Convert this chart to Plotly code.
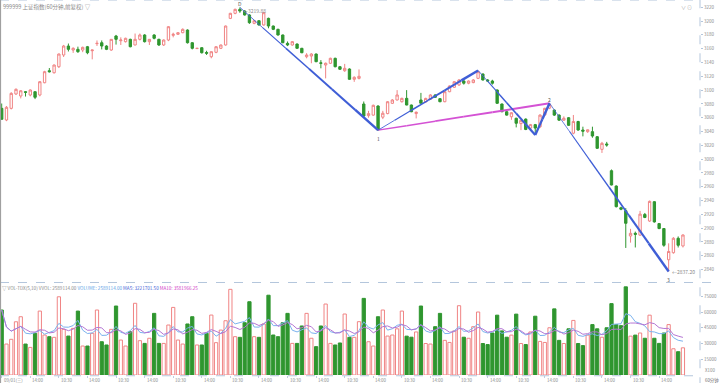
import plotly.graph_objects as go
import pandas as pd

title_text = "999999 上证指数(60分钟,前复权) ▽"
hdr_name = "▽ VOL-TDX(5,10)"
hdr_vvol = "VVOL: 2589114.00"
hdr_volume = "VOLUME: 2589114.00"
hdr_ma5 = "MA5: 3221701.50"
hdr_ma10 = "MA10: 3581966.25"

opens = [3073.6,3056.7,3073.6,3094.4,3091.5,3097.7,3092.9,3097.7,3092.9,3110.7,
         3128.1,3125.2,3133.9,3150.9,3163.9,3158.1,3159.1,3158.1,3162.9,3157.1,
         3167.3,3168.7,3163.9,3158.1,3178.4,3171.6,3170.2,3173.6,3165.4,3173.6,
         3179.9,3170.2,3179.9,3173.6,3165.4,3172.6,3179.4,3180.9,3183.2,3187.1,
         3168.7,3160.2,3161.5,3154.5,3148.4,3154.8,3160.6,3165.4,3204.0,3211.3,
         3217.0,3214.6,3208.9,3196.8,3200.6,3194.4,3204.0,3192.9,3188.1,3179.9,
         3167.8,3165.4,3166.8,3160.6,3148.4,3149.4,3152.3,3139.5,3136.4,3138.9,
         3146.1,3133.9,3128.1,3130.6,3115.7,3117.0,3079.9,3063.0,3063.8,3077.0,
         3060.8,3066.0,3080.9,3085.7,3083.2,3088.1,3078.4,3066.0,3085.7,3083.0,
         3086.8,3093.0,3087.6,3083.2,3097.7,3104.1,3107.5,3113.2,3110.0,3110.9,
         3117.1,3123.4,3114.7,3113.2,3100.2,3079.9,3068.7,3061.4,3059.2,3051.5,
         3058.0,3045.0,3050.0,3046.9,3064.0,3074.0,3071.0,3063.8,3056.5,3060.0,
         3037.6,3054.5,3042.2,3039.8,3039.8,3032.5,3014.2,3022.0,2983.2,2961.0,
         2929.6,2925.3,2888.6,2892.5,2889.9,2919.9,2910.3,2938.3,2906.6,2899.4,
         2854.2,2864.4,2885.3,2874.2]
highs = [3080.6,3077.0,3097.0,3102.5,3100.0,3098.5,3101.0,3098.0,3113.0,3128.0,
         3132.0,3137.0,3153.0,3165.5,3167.5,3162.0,3163.0,3163.0,3164.0,3158.5,
         3172.0,3172.0,3165.0,3174.0,3180.0,3176.5,3176.0,3174.5,3182.0,3182.0,
         3181.0,3174.0,3181.0,3174.5,3173.5,3192.5,3183.2,3184.0,3189.5,3188.0,
         3169.5,3161.0,3162.0,3157.0,3156.0,3163.5,3166.0,3193.5,3212.0,3218.0,
         3219.88,3216.0,3210.0,3201.0,3201.0,3213.0,3205.0,3193.5,3189.0,3180.5,
         3170.5,3171.0,3167.5,3161.2,3153.5,3153.5,3153.0,3143.5,3140.0,3147.0,
         3147.0,3135.0,3138.0,3131.5,3120.0,3130.0,3083.5,3070.0,3079.0,3078.0,
         3070.0,3084.0,3087.0,3100.0,3089.0,3100.0,3079.0,3069.0,3096.0,3089.0,
         3094.0,3094.0,3088.5,3098.5,3106.8,3113.0,3116.0,3115.0,3114.0,3116.0,
         3128.5,3124.0,3116.0,3115.0,3101.0,3080.5,3069.5,3068.0,3060.0,3057.0,
         3059.0,3051.0,3051.0,3065.0,3074.5,3081.0,3072.0,3065.0,3062.0,3061.0,
         3064.0,3055.5,3047.0,3043.0,3047.0,3033.5,3025.0,3025.0,2985.0,2962.0,
         2931.0,2929.0,2899.0,2895.0,2925.0,2922.0,2940.0,2939.0,2907.5,2900.0,
         2878.0,2887.0,2888.0,2891.0]
lows = [3057.4,3055.0,3072.0,3093.0,3088.0,3090.7,3091.0,3087.0,3091.0,3110.0,
        3125.5,3124.0,3132.0,3148.0,3156.0,3154.0,3154.0,3155.0,3152.0,3144.6,
        3164.0,3159.0,3158.0,3157.0,3166.0,3165.4,3169.0,3162.0,3165.0,3172.0,
        3169.0,3165.4,3173.6,3164.0,3164.0,3171.0,3176.5,3180.0,3182.5,3167.5,
        3159.0,3159.5,3153.0,3151.0,3146.1,3153.5,3159.5,3164.5,3203.0,3210.0,
        3212.0,3208.0,3196.0,3195.5,3193.5,3193.5,3189.6,3187.0,3179.0,3168.0,
        3163.8,3164.5,3160.0,3153.5,3146.1,3138.9,3140.5,3131.6,3117.0,3138.0,
        3133.0,3129.5,3126.5,3115.0,3112.0,3115.5,3061.0,3060.0,3063.0,3042.0,
        3058.0,3065.0,3080.0,3085.0,3082.0,3078.0,3068.0,3059.0,3080.5,3082.0,
        3086.0,3089.0,3082.5,3082.5,3097.0,3103.5,3106.0,3108.0,3108.5,3110.0,
        3116.0,3114.0,3112.0,3108.0,3080.0,3068.0,3063.0,3057.0,3046.0,3042.0,
        3042.0,3043.0,3035.0,3045.0,3063.0,3072.5,3062.5,3055.5,3055.5,3048.0,
        3036.0,3041.0,3033.0,3038.0,3031.0,3015.0,3009.0,3018.0,2962.0,2930.0,
        2926.0,2871.3,2879.0,2872.0,2889.0,2914.5,2909.0,2908.0,2898.5,2873.0,
        2837.2,2863.0,2872.0,2872.0]
closes = [3057.7,3075.1,3095.3,3101.2,3099.1,3096.8,3100.2,3089.6,3112.2,3126.7,
          3126.7,3136.4,3152.3,3163.9,3159.1,3160.6,3155.7,3162.0,3154.2,3158.1,
          3167.8,3163.9,3159.1,3173.6,3173.6,3172.6,3175.1,3162.9,3173.6,3179.9,
          3170.2,3173.6,3175.1,3165.4,3172.6,3191.9,3180.9,3183.2,3188.1,3168.7,
          3160.6,3160.6,3154.2,3153.5,3155.7,3162.9,3165.4,3192.9,3211.3,3217.1,
          3214.6,3208.9,3197.7,3200.6,3194.4,3212.2,3192.9,3188.1,3179.9,3168.7,
          3165.4,3170.2,3160.6,3154.2,3150.9,3152.3,3141.2,3138.9,3138.9,3146.1,
          3133.9,3130.2,3131.6,3115.7,3118.6,3120.0,3062.5,3066.0,3078.0,3042.2,
          3066.5,3083.2,3085.7,3093.0,3088.1,3078.4,3068.7,3068.0,3081.0,3088.0,
          3093.0,3089.6,3083.2,3097.7,3106.0,3112.2,3114.7,3110.0,3113.2,3114.7,
          3126.7,3114.7,3113.2,3110.0,3080.9,3068.7,3063.8,3067.2,3052.0,3056.3,
          3043.0,3050.0,3045.0,3063.8,3073.6,3079.0,3063.8,3056.5,3059.2,3049.0,
          3054.5,3042.2,3040.5,3042.5,3033.5,3015.7,3022.9,3020.5,2962.5,2931.1,
          2927.4,2907.0,2892.5,2891.1,2920.3,2915.5,2938.8,2909.0,2899.4,2875.2,
          2866.2,2885.3,2875.2,2890.1]
volumes = [61900,29500,34000,50700,55500,29500,26300,39700,60900,38100,
           36500,35900,74500,43500,37100,44400,60900,27600,27600,39700,
           61900,31700,28600,43500,65700,33300,27600,41200,68300,32700,
           30100,35000,58700,30100,30100,47600,64400,33300,29500,48600,
           55500,28600,28600,39700,57100,30800,42800,51700,81600,36500,
           35900,49800,69800,36500,35900,48600,76000,38100,36500,49800,
           58700,30100,30100,46700,58700,35000,27000,46700,67600,30100,
           28600,30500,58100,35900,35900,50800,73000,31700,27600,55500,
           61900,37100,38100,44000,60900,37000,36000,41000,65700,30000,
           29500,46000,58700,33000,31000,42000,66000,36000,35000,46000,
           60000,30000,29000,40000,57000,42000,36000,38000,58000,30000,
           29000,41000,56000,32000,31000,45000,63000,33000,30000,44000,
           52000,30000,28000,38000,48000,44000,36000,45000,68000,48000,
           47000,84000,37000,38000,40000,35000,57000,35000,30112,40000,
           48000,25000,22194,25891]

N = len(closes)
x_idx = list(range(N))

tick_pos = list(range(0, 144, 6))
tick_labels = ["09/01(三)"] + [("14:00" if k % 2 == 1 else "10:30") for k in range(1, len(tick_pos))]
price_ticks = list(range(2840, 3221, 20))
vol_ticks = [15000, 30000, 45000, 60000, 75000]
vol_unit = "X100"
period_text = "60分钟"

pivot_idx = [50, 79, 100, 112, 115, 140]
pivot_kind = ["H", "L", "H", "L", "H", "L"]
pivot_names = {50: "D", 79: "1", 115: "2", 140: "3"}

UP = "#f08484"
DOWN = "#2f962f"
GRAY = "#8a8a8a"
BLUE = "#3f5ed6"
MAG = "#d452d4"
FONT = "Noto Sans CJK SC, DejaVu Sans, sans-serif"

vol_s = pd.Series(volumes, dtype=float)
ma5 = vol_s.rolling(5, min_periods=1).mean()
ma10 = vol_s.rolling(10, min_periods=1).mean()

fig = go.Figure()
fig.add_trace(go.Candlestick(
    x=x_idx, open=opens, high=highs, low=lows, close=closes,
    increasing=dict(line=dict(color=UP, width=1), fillcolor="white"),
    decreasing=dict(line=dict(color=DOWN, width=1), fillcolor=DOWN),
    whiskerwidth=0, xaxis="x", yaxis="y", showlegend=False, hoverinfo="skip"))

up_flags = [c >= o for o, c in zip(opens, closes)]
fig.add_trace(go.Bar(
    x=x_idx, y=volumes, xaxis="x", yaxis="y2", width=0.68,
    marker=dict(color=["white" if u else DOWN for u in up_flags],
                line=dict(color=[UP if u else DOWN for u in up_flags], width=1)),
    showlegend=False, hoverinfo="skip"))
fig.add_trace(go.Scatter(x=x_idx, y=ma5, mode="lines", line=dict(color="#7ab2ee", width=1),
                         xaxis="x", yaxis="y2", showlegend=False, hoverinfo="skip"))
fig.add_trace(go.Scatter(x=x_idx, y=ma10, mode="lines", line=dict(color="#b476d4", width=1),
                         xaxis="x", yaxis="y2", showlegend=False, hoverinfo="skip"))

piv_vals = [highs[i] if k == "H" else lows[i] for i, k in zip(pivot_idx, pivot_kind)]


def add_taper(a, b, color, w0, w1, n=6):
    xa, ya = pivot_idx[a], piv_vals[a]
    xb, yb = pivot_idx[b], piv_vals[b]
    for k in range(n):
        t0, t1 = k / n, (k + 1) / n
        w = w0 + (w1 - w0) * (k + 0.5) / n
        fig.add_trace(go.Scatter(
            x=[xa + (xb - xa) * t0, xa + (xb - xa) * t1],
            y=[ya + (yb - ya) * t0, ya + (yb - ya) * t1],
            mode="lines", line=dict(color=color, width=w), xaxis="x", yaxis="y",
            showlegend=False, hoverinfo="skip"))


add_taper(1, 4, MAG, 1.4, 2.2)
add_taper(0, 1, BLUE, 0.7, 2.6)
add_taper(1, 2, BLUE, 0.7, 2.6)
add_taper(2, 3, BLUE, 0.7, 2.4)
add_taper(3, 4, BLUE, 2.2, 2.6, n=2)
add_taper(4, 5, BLUE, 0.6, 2.6)

ann = []
for i, k, v in zip(pivot_idx, pivot_kind, piv_vals):
    if i in pivot_names:
        ann.append(dict(x=i, y=v, xref="x", yref="y", text=pivot_names[i], showarrow=False,
                        yanchor="bottom" if k == "H" else "top", yshift=-2 if k == "H" else -3,
                        font=dict(size=5, color="#555", family=FONT)))
ann.append(dict(x=pivot_idx[0], y=piv_vals[0], xref="x", yref="y", text="←%.2f" % piv_vals[0],
                showarrow=False, xanchor="left", xshift=1, yanchor="middle", yshift=-3,
                font=dict(size=5, color=GRAY, family=FONT)))
ann.append(dict(x=pivot_idx[5], y=piv_vals[5], xref="x", yref="y", text="←%.2f" % piv_vals[5],
                showarrow=False, xanchor="left", xshift=1, yanchor="middle",
                font=dict(size=5, color=GRAY, family=FONT)))
ann.append(dict(x=0.002, y=1, xref="paper", yref="paper", text=title_text, showarrow=False,
                xanchor="left", yanchor="top", yshift=-1, font=dict(size=5.5, color=GRAY, family=FONT)))
ann.append(dict(x=0.992, y=1, xref="paper", yref="paper", text="∨ ⊙", showarrow=False,
                xanchor="right", yanchor="top", yshift=-1, font=dict(size=5, color="#aaa", family=FONT)))
hdr = (hdr_name + " " + hdr_vvol + " " +
       "<span style='color:#5e9fe6'>" + hdr_volume + "</span> " +
       "<span style='color:#3f63d6'>" + hdr_ma5 + "</span> " +
       "<span style='color:#d040c8'>" + hdr_ma10 + "</span>")
ann.append(dict(x=0.0, y=0.2453, xref="paper", yref="paper", text=hdr, showarrow=False,
                xanchor="left", yanchor="top", yshift=0, font=dict(size=4.6, color=GRAY, family=FONT)))
for p, t in zip(tick_pos, tick_labels):
    ann.append(dict(x=p, y=0, xref="x", yref="paper", text=t, showarrow=False, xanchor="left",
                    yanchor="top", yshift=0, font=dict(size=4.4, color=GRAY, family=FONT)))
ann.append(dict(x=1.004, y=0, xref="paper", yref="paper", text=vol_unit, showarrow=False,
                xanchor="left", yanchor="bottom", yshift=0, font=dict(size=4.4, color=GRAY, family=FONT)))
ann.append(dict(x=1.004, y=0, xref="paper", yref="paper", text=period_text, showarrow=False,
                xanchor="left", yanchor="top", yshift=0, font=dict(size=4.4, color="#666", family=FONT)))

shapes = [
    dict(type="line", xref="paper", yref="paper", x0=0, x1=1, y0=1, y1=1,
         line=dict(color="#b4c6dc", width=1, dash="dash")),
    dict(type="line", xref="paper", yref="paper", x0=0, x1=1.03, y0=0.2467, y1=0.2467,
         line=dict(color="#b4c6dc", width=1, dash="dash")),
    dict(type="line", xref="paper", yref="paper", x0=0, x1=1, y0=-0.002, y1=-0.002,
         line=dict(color="#b4c6dc", width=1, dash="dash")),
    dict(type="line", xref="paper", yref="paper", x0=1, x1=1, y0=-0.03, y1=1,
         line=dict(color="#b4c6dc", width=1, dash="dash")),
    dict(type="line", xref="paper", yref="paper", x0=0.0005, x1=0.0005, y0=-0.03, y1=1,
         line=dict(color="#a0a0a0", width=1.5)),
]

fig.update_layout(
    width=720, height=383, margin=dict(l=0, r=20, t=0, b=8, autoexpand=False),
    paper_bgcolor="white", plot_bgcolor="white",
    xaxis=dict(domain=[0, 1], range=[-0.357, 146.58], anchor="y2", showgrid=False, zeroline=False,
               tickvals=tick_pos, ticks="outside", ticklen=2, tickcolor="#c0cde0",
               showticklabels=False, rangeslider=dict(visible=False),
               showline=False, automargin=False),
    yaxis=dict(domain=[0.248, 1], range=[2821.96, 3230.6], side="right", anchor="x",
               tickvals=price_ticks, ticks="outside", ticklen=2, tickcolor="#b4c6dc",
               tickfont=dict(size=4.5, color=GRAY, family=FONT), showgrid=False, zeroline=False,
               automargin=False),
    yaxis2=dict(domain=[0, 0.2453], range=[0, 87620], side="right", anchor="x",
                tickvals=vol_ticks, ticktext=[str(v) for v in vol_ticks],
                ticks="outside", ticklen=2, tickcolor="#b4c6dc",
                tickfont=dict(size=4.5, color=GRAY, family=FONT), showgrid=False, zeroline=False,
                automargin=False),
    annotations=ann, shapes=shapes, bargap=0.3,
)
fig.write_html("out.html", config={"displayModeBar": False},
               post_script="document.body.style.margin='0';document.body.style.overflow='hidden';")
